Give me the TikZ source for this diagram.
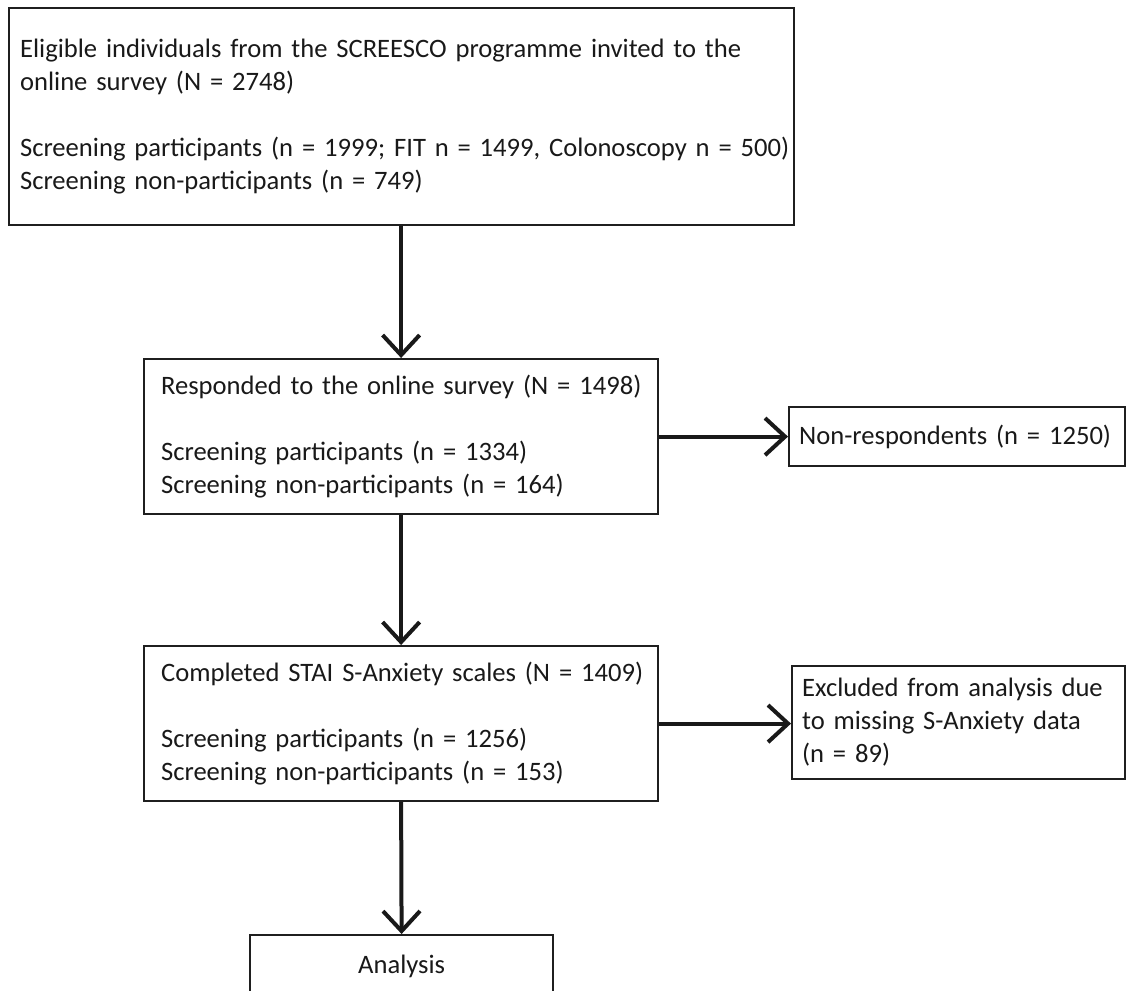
\documentclass[tikz,border=0pt]{standalone}
\usepackage{fontspec}
\setmainfont{Carlito}
\usetikzlibrary{arrows.meta}
\begin{document}
\begin{tikzpicture}[x=0.5pt,y=-0.5pt,
  box/.style={draw=black!88, line width=1.1pt, inner ysep=0pt, anchor=north west,
    font=\fontsize{13.3}{16.5}\selectfont, align=left, text=black!90},
  flow/.style={draw=black!90, line width=2pt, -{Straight Barb[length=10pt,width=18.5pt]}}]
\clip (0,0) rectangle (1129,990);
\node[box, inner xsep=5.5pt, text width=381.5pt, minimum height=108.5pt] (b1) at (8,7)
  {\mbox{Eligible individuals from the SCREESCO programme invited to the}\\
   \mbox{online survey (N = 2748)}\\[16.5pt]
   \mbox{Screening participants (n = 1999; FIT n = 1499, Colonoscopy n = 500)}\\
   \mbox{Screening non-participants (n = 749)}};
\node[box, inner xsep=8.5pt, text width=240pt, minimum height=77.5pt] (b2) at (143,358)
  {\mbox{Responded to the online survey (N = 1498)}\\[16.5pt]
   \mbox{Screening participants (n = 1334)}\\
   \mbox{Screening non-participants (n = 164)}};
\node[box, inner xsep=5pt, text width=158pt, minimum height=29.5pt] (nr) at (788,406)
  {\mbox{Non-respondents (n = 1250)}};
\node[box, inner xsep=8.5pt, text width=240pt, minimum height=77.5pt] (b3) at (143,645)
  {\mbox{Completed STAI S-Anxiety scales (N = 1409)}\\[16.5pt]
   \mbox{Screening participants (n = 1256)}\\
   \mbox{Screening non-participants (n = 153)}};
\node[box, inner xsep=5pt, text width=156.5pt, minimum height=56.5pt] (ex) at (791,665)
  {\mbox{Excluded from analysis due}\\
   \mbox{to missing S-Anxiety data}\\
   \mbox{(n = 89)}};
\node[box, inner xsep=0pt, text width=151.5pt, align=center, minimum height=31pt] (an) at (249,934)
  {Analysis};
\draw[flow] (b2.north |- b1.south) -- (b2.north);
\draw[flow] (b2.east) -- (nr.west);
\draw[flow] (b2.south) -- (b3.north);
\draw[flow] (b3.east) -- (b3.east -| ex.west);
\draw[flow] (b3.south) -- (an.north);
\end{tikzpicture}
\end{document}
